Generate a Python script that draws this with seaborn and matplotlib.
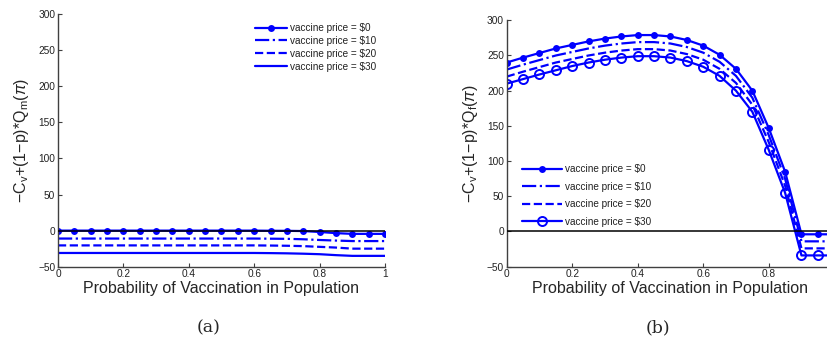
import numpy as np
import pandas as pd
import matplotlib
matplotlib.use('Agg')
import matplotlib.pyplot as plt
import seaborn as sns

# vaccination probability grid
x_prob = [0, 0.05, 0.1, 0.15, 0.2, 0.25, 0.3, 0.35, 0.4, 0.45, 0.5,
          0.55, 0.6, 0.65, 0.7, 0.75, 0.8, 0.85, 0.9, 0.95, 1.0]

prices = ['$0', '$10', '$20', '$30']

# panel (a): -Cv + (1-p)*Qm(pi)
a_p0 = [0, 0, 0, 0, 0, 0, 0, 0, 0, 0, 0, 0, 0, -0.2, -0.3, -0.6, -1.9, -3.5, -4.5, -4.5, -4.5]
a_p10 = [-11, -11, -11, -11, -11, -11, -11, -11, -11, -11, -11, -11, -11, -11.2, -11.4, -12, -13, -13.8, -14.5, -14.5, -14.5]
a_p20 = [-20.5, -20.5, -20.5, -20.5, -20.5, -20.5, -20.5, -20.5, -20.5, -20.5, -20.5, -20.5, -20.5, -20.7, -21, -21.5, -22.5, -23.5, -25, -25, -25]
a_p30 = [-31, -31, -31, -31, -31, -31, -31, -31, -31, -31, -31, -31, -31, -31.2, -31.5, -32, -32.7, -34, -35, -35, -35]

# panel (b): -Cv + (1-p)*Qf(pi)
b_p0 = [240, 247, 253.5, 260, 265, 270, 274, 277, 279, 279, 277, 272, 264, 251, 231, 200, 147, 85, -4, -4, -4]
b_p10 = [230, 237, 243.5, 250, 255, 260, 264, 267, 269, 269, 267, 262, 254, 241, 221, 190, 137, 75, -14, -14, -14]
b_p20 = [220, 227, 233.5, 240, 245, 250, 254, 257, 259, 259, 257, 252, 244, 231, 211, 180, 127, 65, -24, -24, -24]
b_p30 = [210, 216.5, 223, 229, 235, 240, 244, 247, 249, 249, 247, 242, 234, 221, 200, 170, 116, 55, -34, -34, -34]

x_ticks_a = [0, 0.2, 0.4, 0.6, 0.8, 1.0]
x_ticklabels_a = ['0', '0.2', '0.4', '0.6', '0.8', '1']
x_ticks_b = [0, 0.2, 0.4, 0.6, 0.8]
x_ticklabels_b = ['0', '0.2', '0.4', '0.6', '0.8']
y_ticks = [-50, 0, 50, 100, 150, 200, 250, 300]

sns.set_style('ticks')
plt.rcParams['font.family'] = ['Liberation Sans', 'DejaVu Sans']
plt.rcParams['mathtext.fontset'] = 'custom'
plt.rcParams['mathtext.rm'] = 'Liberation Sans'
plt.rcParams['mathtext.it'] = 'Liberation Sans:italic'
plt.rcParams['xtick.direction'] = 'in'
plt.rcParams['ytick.direction'] = 'in'

BLUE = '#0000ff'
GREY = '#404040'


def draw_panel(ax, series, styles, ylabel, xt, xtl, legend_loc, legend_kw):
    for price, vals, st in zip(prices, series, styles):
        df = pd.DataFrame({'p': x_prob, 'v': vals})
        sns.lineplot(data=df, x='p', y='v', ax=ax, color=BLUE, linewidth=1.6,
                     label=f'vaccine price = {price}', **st)
    ax.axhline(0, color='black', linewidth=1.1, zorder=3)
    ax.set_xlim(0, 1)
    ax.set_ylim(-50, 300)
    ax.set_xticks(xt)
    ax.set_xticklabels(xtl)
    ax.set_yticks(y_ticks)
    ax.tick_params(labelsize=7.3, length=3, width=0.8, colors=GREY, labelcolor='#222222', pad=2)
    for s in ['top', 'right']:
        ax.spines[s].set_visible(False)
    for s in ['left', 'bottom']:
        ax.spines[s].set_color(GREY)
        ax.spines[s].set_linewidth(1.0)
    ax.set_xlabel('Probability of Vaccination in Population', fontsize=11.5, labelpad=1)
    ax.set_ylabel(ylabel, fontsize=11.5, labelpad=5)
    leg = ax.legend(loc=legend_loc, frameon=False, fontsize=7.2, **legend_kw)
    for t in leg.get_texts():
        t.set_color('#222222')


fig = plt.figure(figsize=(8.28, 3.38), dpi=100)
ax_a = fig.add_axes([0.070, 0.211, 0.395, 0.747])
ax_b = fig.add_axes([0.612, 0.211, 0.3955, 0.729])

styles_a = [
    dict(linestyle='-', marker='o', markersize=5, markeredgewidth=0),
    dict(linestyle='-.'),
    dict(linestyle='--'),
    dict(linestyle='-'),
]
styles_b = [
    dict(linestyle='-', marker='o', markersize=5, markeredgewidth=0),
    dict(linestyle='-.'),
    dict(linestyle='--'),
    dict(linestyle='-', marker='o', markersize=6.5, markerfacecolor='none',
         markeredgecolor=BLUE, markeredgewidth=1.4),
]

draw_panel(ax_a, [a_p0, a_p10, a_p20, a_p30], styles_a,
           r'$-\mathrm{C}_\mathrm{v}$+(1$-$p)*$\mathrm{Q}_\mathrm{m}$($\pi$)',
           x_ticks_a, x_ticklabels_a,
           'upper right', dict(handlelength=3.2, labelspacing=0.28, borderaxespad=0.5,
                               handletextpad=0.3))
draw_panel(ax_b, [b_p0, b_p10, b_p20, b_p30], styles_b,
           r'$-\mathrm{C}_\mathrm{v}$+(1$-$p)*$\mathrm{Q}_\mathrm{f}$($\pi$)',
           x_ticks_b, x_ticklabels_b,
           'lower left', dict(handlelength=4.0, labelspacing=0.75, bbox_to_anchor=(0.02, 0.125),
                              handletextpad=0.3))

fig.text(0.252, 0.03, '(a)', fontsize=12.5, family='DejaVu Serif', ha='center', va='center')
fig.text(0.795, 0.03, '(b)', fontsize=12.5, family='DejaVu Serif', ha='center', va='center')

fig.savefig('out.png', dpi=100)
